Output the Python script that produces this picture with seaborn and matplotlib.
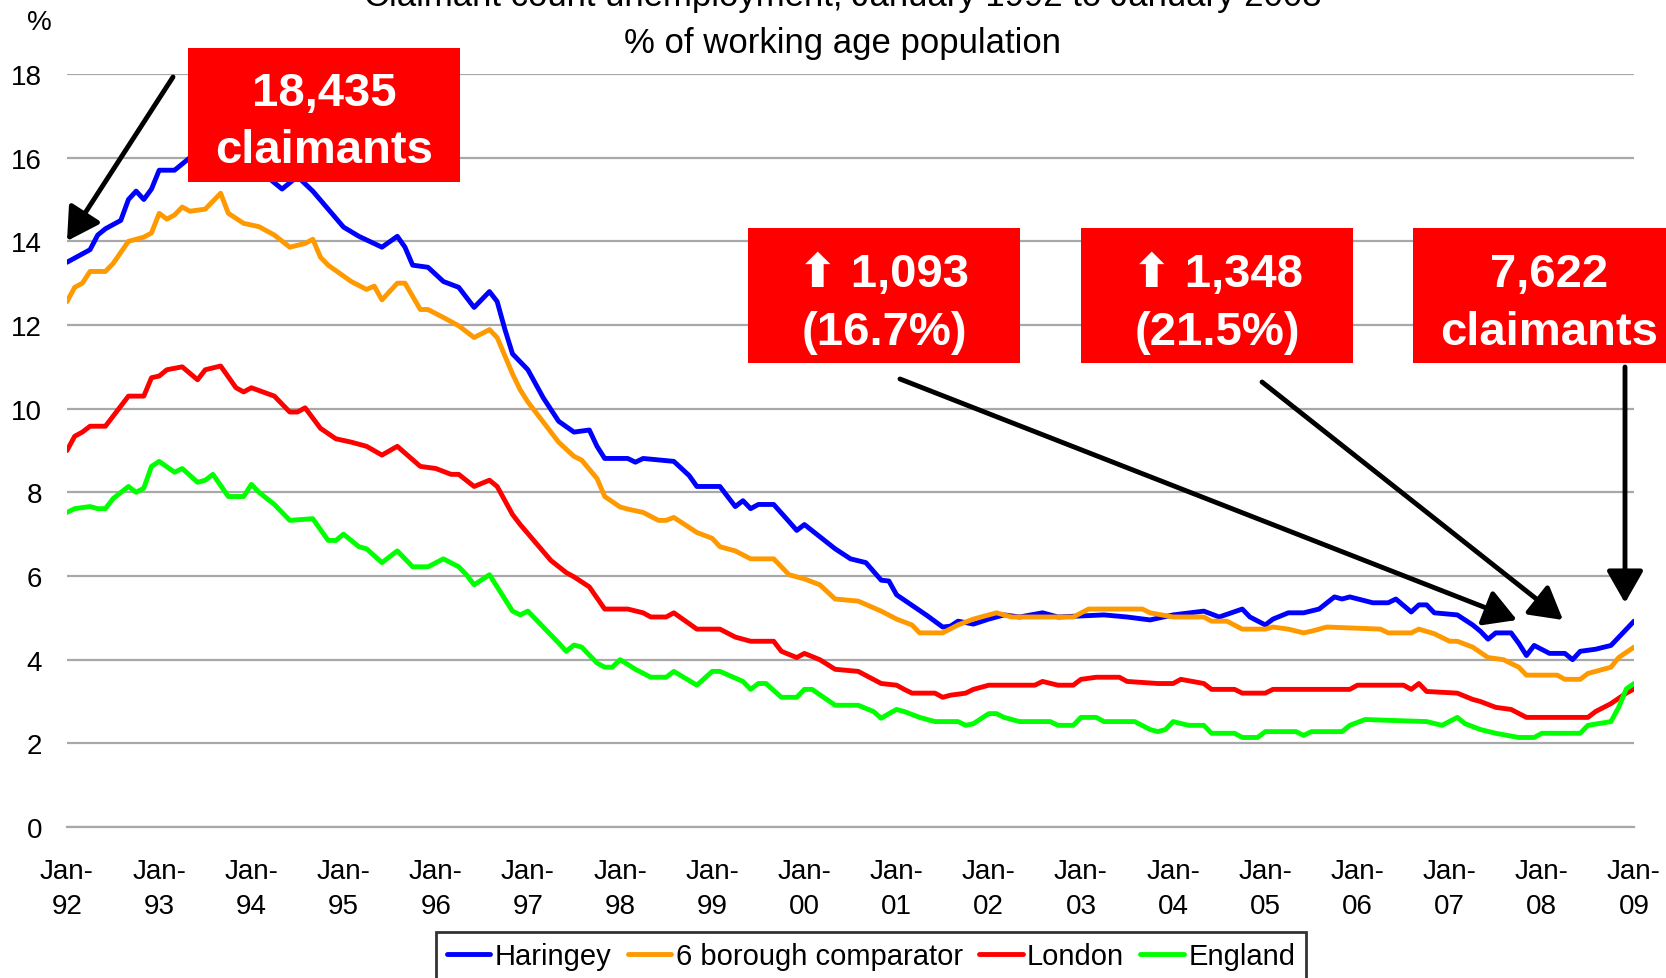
import numpy as np
import pandas as pd
import seaborn as sns
import matplotlib.pyplot as plt
from matplotlib.patches import Rectangle

# months counted from Jan-92 (0) to Jan-09 (204) (% of working age pop.)
haringey_month = [0, 3, 4, 5, 7, 8, 9, 10, 11, 12, 14, 16, 19, 22, 25, 28, 30, 32, 34, 36, 38, 41, 43, 44, 45,
                  47, 49, 51, 53, 55, 56, 57, 58, 60, 62, 64, 66, 68, 69, 70, 73, 74, 75, 79, 81, 82, 85, 87, 88,
                  89, 90, 92, 94, 95, 96, 98, 100, 102, 104, 106, 107, 108, 110, 112, 114, 115, 116, 118, 120,
                  122, 124, 127, 129, 135, 138, 141, 144, 148, 150, 153, 154, 156, 157, 159, 161, 163, 165, 166,
                  167, 170, 172, 173, 175, 176, 177, 178, 181, 183, 184, 185, 186, 188, 189, 190, 191, 193, 195,
                  196, 197, 199, 201, 204]
haringey_pct = [13.5, 13.8, 14.15, 14.3, 14.5, 15.0, 15.2, 15.0, 15.25, 15.7, 15.7, 16.0, 16.2, 16.2, 15.7, 15.25,
                15.55, 15.2, 14.77, 14.34, 14.12, 13.86, 14.12, 13.86, 13.43, 13.38, 13.04, 12.9, 12.42, 12.8,
                12.56, 11.9, 11.31, 10.93, 10.26, 9.7, 9.44, 9.49, 9.1, 8.81, 8.81, 8.72, 8.81, 8.74, 8.4, 8.14,
                8.14, 7.66, 7.8, 7.61, 7.71, 7.71, 7.3, 7.09, 7.23, 6.94, 6.65, 6.41, 6.32, 5.9, 5.88, 5.55, 5.3,
                5.05, 4.78, 4.8, 4.92, 4.85, 4.97, 5.07, 5.02, 5.12, 5.02, 5.07, 5.02, 4.95, 5.07, 5.16, 5.02,
                5.21, 5.02, 4.83, 4.97, 5.12, 5.12, 5.21, 5.5, 5.45, 5.5, 5.36, 5.36, 5.45, 5.14, 5.31, 5.31,
                5.12, 5.07, 4.83, 4.68, 4.49, 4.64, 4.64, 4.39, 4.1, 4.34, 4.15, 4.15, 4.0, 4.2, 4.25, 4.34, 4.92]

comparator_month = [0, 1, 2, 3, 5, 6, 8, 10, 11, 12, 13, 14, 15, 16, 18, 19, 20, 21, 23, 25, 27, 29, 31, 32, 33,
                    34, 37, 39, 40, 41, 43, 44, 46, 47, 49, 51, 53, 55, 56, 58, 59, 60, 62, 64, 66, 67, 69, 70,
                    72, 73, 75, 77, 78, 79, 82, 84, 85, 87, 89, 92, 94, 96, 98, 100, 103, 106, 108, 110, 111,
                    114, 116, 118, 121, 123, 131, 133, 140, 141, 144, 148, 149, 151, 153, 156, 157, 159, 161,
                    162, 164, 171, 172, 175, 176, 178, 180, 181, 183, 185, 187, 189, 190, 194, 195, 197, 198,
                    199, 201, 202, 204]
comparator_pct = [12.56, 12.9, 13.0, 13.28, 13.28, 13.47, 14.0, 14.1, 14.2, 14.67, 14.53, 14.63, 14.82, 14.72,
                  14.77, 14.96, 15.15, 14.67, 14.43, 14.35, 14.15, 13.86, 13.95, 14.05, 13.62, 13.43, 13.04,
                  12.85, 12.93, 12.6, 13.0, 13.0, 12.37, 12.37, 12.18, 11.98, 11.7, 11.89, 11.7, 10.83, 10.45,
                  10.16, 9.68, 9.2, 8.86, 8.77, 8.33, 7.9, 7.65, 7.6, 7.52, 7.33, 7.33, 7.4, 7.04, 6.9, 6.7,
                  6.6, 6.41, 6.41, 6.03, 5.93, 5.79, 5.45, 5.4, 5.16, 4.97, 4.83, 4.64, 4.64, 4.83, 4.97, 5.12,
                  5.02, 5.02, 5.21, 5.21, 5.12, 5.02, 5.02, 4.92, 4.92, 4.73, 4.73, 4.78, 4.73, 4.64, 4.68,
                  4.78, 4.73, 4.64, 4.64, 4.73, 4.62, 4.44, 4.44, 4.3, 4.05, 4.0, 3.82, 3.63, 3.63, 3.53, 3.53,
                  3.67, 3.72, 3.82, 4.05, 4.3]

london_month = [0, 1, 2, 3, 5, 7, 8, 10, 11, 12, 13, 15, 17, 18, 20, 22, 23, 24, 27, 29, 30, 31, 33, 35, 37, 39,
                41, 43, 46, 48, 50, 51, 53, 55, 56, 58, 59, 61, 63, 65, 66, 68, 70, 73, 75, 76, 78, 79, 82, 85,
                87, 89, 92, 93, 95, 96, 98, 100, 103, 106, 108, 109, 110, 113, 114, 115, 117, 118, 120, 126,
                127, 129, 131, 132, 134, 137, 138, 142, 144, 145, 148, 149, 152, 153, 156, 157, 167, 168, 174,
                175, 176, 177, 181, 183, 184, 186, 188, 190, 198, 199, 201, 203, 204]
london_pct = [9.0, 9.34, 9.44, 9.58, 9.58, 10.06, 10.3, 10.3, 10.74, 10.78, 10.93, 11.0, 10.69, 10.93, 11.02,
              10.5, 10.4, 10.5, 10.3, 9.92, 9.92, 10.02, 9.53, 9.28, 9.2, 9.1, 8.89, 9.1, 8.62, 8.57, 8.43,
              8.43, 8.14, 8.29, 8.14, 7.47, 7.23, 6.8, 6.37, 6.08, 5.98, 5.74, 5.21, 5.21, 5.12, 5.02, 5.02,
              5.12, 4.73, 4.73, 4.54, 4.44, 4.44, 4.2, 4.05, 4.15, 4.0, 3.77, 3.72, 3.43, 3.39, 3.29, 3.2, 3.2,
              3.1, 3.15, 3.2, 3.29, 3.39, 3.39, 3.48, 3.39, 3.39, 3.53, 3.58, 3.58, 3.48, 3.43, 3.43, 3.53,
              3.43, 3.29, 3.29, 3.2, 3.2, 3.29, 3.29, 3.39, 3.39, 3.29, 3.43, 3.24, 3.2, 3.05, 3.0, 2.86, 2.81,
              2.62, 2.62, 2.76, 2.95, 3.2, 3.3]

england_month = [0, 1, 3, 4, 5, 6, 8, 9, 10, 11, 12, 14, 15, 17, 18, 19, 21, 23, 24, 25, 27, 29, 32, 34, 35, 36,
                 38, 39, 41, 43, 45, 47, 49, 51, 52, 53, 55, 56, 58, 59, 60, 62, 64, 65, 66, 67, 69, 70, 71, 72,
                 74, 76, 78, 79, 82, 84, 85, 88, 89, 90, 91, 93, 95, 96, 97, 100, 103, 105, 106, 107, 108, 109,
                 111, 113, 116, 117, 118, 120, 121, 122, 124, 128, 129, 131, 132, 134, 135, 139, 141, 142, 143,
                 144, 146, 148, 149, 152, 153, 155, 156, 160, 161, 162, 166, 167, 169, 172, 177, 179, 181, 182,
                 184, 186, 189, 191, 192, 197, 198, 201, 202, 203, 204]
england_pct = [7.52, 7.61, 7.66, 7.61, 7.61, 7.85, 8.14, 8.0, 8.1, 8.62, 8.74, 8.48, 8.57, 8.24, 8.29, 8.43, 7.9,
               7.9, 8.19, 8.0, 7.71, 7.33, 7.37, 6.85, 6.85, 7.0, 6.7, 6.65, 6.32, 6.6, 6.22, 6.22, 6.41, 6.22,
               6.03, 5.79, 6.03, 5.74, 5.16, 5.07, 5.16, 4.78, 4.4, 4.2, 4.35, 4.3, 3.92, 3.82, 3.82, 4.0, 3.77,
               3.58, 3.58, 3.72, 3.39, 3.72, 3.72, 3.48, 3.29, 3.43, 3.43, 3.1, 3.1, 3.29, 3.29, 2.91, 2.91,
               2.76, 2.6, 2.71, 2.81, 2.76, 2.62, 2.52, 2.52, 2.43, 2.47, 2.71, 2.71, 2.62, 2.52, 2.52, 2.43,
               2.43, 2.62, 2.62, 2.52, 2.52, 2.33, 2.28, 2.33, 2.52, 2.43, 2.43, 2.24, 2.24, 2.14, 2.14, 2.28,
               2.28, 2.19, 2.28, 2.28, 2.43, 2.57, 2.55, 2.52, 2.43, 2.62, 2.47, 2.33, 2.24, 2.14, 2.14, 2.24,
               2.24, 2.43, 2.52, 2.86, 3.3, 3.43]

series_names = ['Haringey', '6 borough comparator', 'London', 'England']
series_colors = ['#0000FF', '#FF9900', '#FF0000', '#00FF00']
year_labels = ['92', '93', '94', '95', '96', '97', '98', '99', '00', '01', '02', '03', '04', '05', '06',
               '07', '08', '09']

df = pd.concat([
    pd.DataFrame({'month': m, 'pct': p, 'series': n})
    for n, m, p in zip(series_names,
                       [haringey_month, comparator_month, london_month, england_month],
                       [haringey_pct, comparator_pct, london_pct, england_pct])
])

sns.set_style('white')
plt.rcParams['font.family'] = ['Liberation Sans', 'DejaVu Sans']
plt.rcParams['text.color'] = 'black'
plt.rcParams['xtick.labelcolor'] = 'black'
plt.rcParams['ytick.labelcolor'] = 'black'

W, H = 1666, 979
fig = plt.figure(figsize=(W / 100, H / 100), dpi=100)
ax = fig.add_axes([67 / W, (H - 828) / H, (1634 - 67) / W, (828 - 75) / H])

sns.lineplot(data=df, x='month', y='pct', hue='series', hue_order=series_names,
             palette=series_colors, lw=3.5, estimator=None, ax=ax)

ax.set_xlim(0, 204)
ax.set_ylim(0, 18)
ax.set_yticks(range(0, 19, 2))
ax.set_xticks(range(0, 205, 12))
ax.set_xticks(range(0, 205), minor=True)
ax.set_xticklabels(['Jan-\n' + y for y in year_labels], linespacing=1.45)
ax.set_xlabel('')
ax.set_ylabel('')
ax.yaxis.grid(True, color='#a8a8a8', lw=1.6)
ax.set_axisbelow(True)
for s in ['top', 'left', 'right']:
    ax.spines[s].set_visible(False)
ax.spines['bottom'].set_color('#a8a8a8')
ax.spines['bottom'].set_linewidth(1.6)
ax.tick_params(axis='x', which='major', length=8, width=1, color='#a8a8a8', pad=14, labelsize=20)
ax.tick_params(axis='x', which='minor', length=5, width=1, color='#a8a8a8')
ax.tick_params(axis='y', length=0, pad=18, labelsize=20)

handles, labels = ax.get_legend_handles_labels()
leg = ax.legend(handles, labels, loc='upper center', bbox_to_anchor=(871 / W, (H - 933) / H),
                bbox_transform=fig.transFigure, ncol=4, fontsize=21, frameon=True, fancybox=False,
                handlelength=1.5, handletextpad=0.15, columnspacing=0.55, borderpad=0.35,
                borderaxespad=0)
leg.get_frame().set_edgecolor('black')
leg.get_frame().set_linewidth(2)
for line in leg.get_lines():
    line.set_linewidth(3.5)

fig.text(843 / W, 1 - 6 / H, 'Claimant count unemployment, January 1992 to January 2008',
         ha='center', va='baseline', fontsize=25)
fig.text(843 / W, 1 - 43 / H, '% of working age population', ha='center', va='center', fontsize=25)
fig.text(39 / W, 1 - 23 / H, '%', ha='center', va='center', fontsize=20)

# red callout boxes (pixel positions from the top-left corner)
boxes = [
    ((188, 49, 460, 183), 324, ['18,435', 'claimants'], (94, 151)),
    ((748, 229, 1020, 364), 884, ['\u2b06 1,093', '(16.7%)'], (275, 333)),
    ((1081, 229, 1353, 364), 1217, ['\u2b06 1,348', '(21.5%)'], (275, 333)),
    ((1413, 229, 1680, 364), 1549, ['7,622', 'claimants'], (275, 333)),
]
for (x0, y0, x1, y1), cx, lines, ys in boxes:
    fig.add_artist(Rectangle((x0 / W, 1 - y1 / H), (x1 - x0) / W, (y1 - y0) / H,
                             transform=fig.transFigure, facecolor='#FF0000', edgecolor='none', zorder=5))
    for txt, cy in zip(lines, ys):
        fig.text(cx / W, 1 - cy / H, txt, ha='center', va='center', color='white',
                 fontsize=34, fontweight='bold', zorder=6)

arrows = [((173, 78), (67, 242)), ((900, 380), (1517, 621)),
          ((1262, 383), (1563, 621)), ((1625, 368), (1625, 604))]
for (xa, ya), (xb, yb) in arrows:
    ax.annotate('', xy=(xb, H - yb), xytext=(xa, H - ya), xycoords='figure pixels',
                textcoords='figure pixels', annotation_clip=False, zorder=7,
                arrowprops=dict(arrowstyle='-|>,head_length=0.7,head_width=0.4', lw=3.5,
                                color='black', shrinkA=0, shrinkB=0, mutation_scale=28))

fig.savefig('out.png', dpi=100)
